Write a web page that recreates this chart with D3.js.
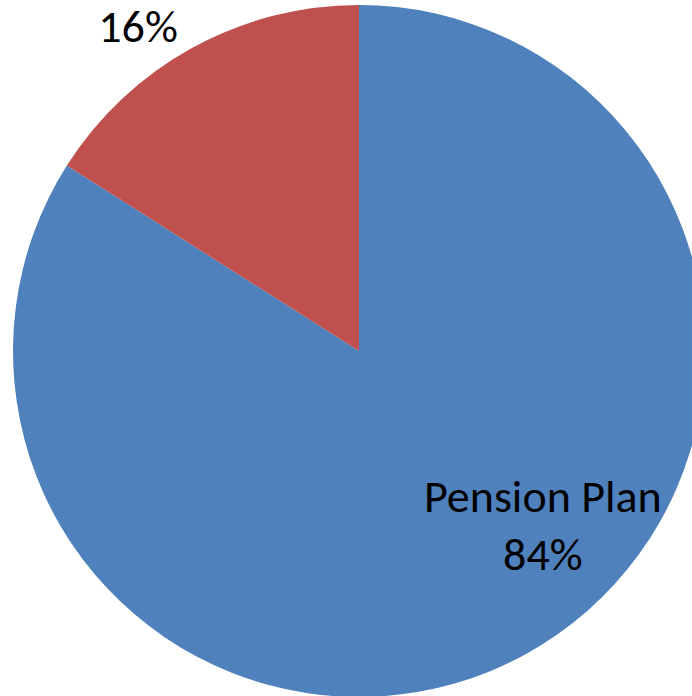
<!DOCTYPE html>
<html>
<head>
  <meta charset="utf-8">
  <title>Pension Plan share</title>
  <style>
    body { margin: 0; background: #fff; }
    text {
      font-family: Carlito, Calibri, Lato, "Open Sans", sans-serif;
      fill: #000;
    }
  </style>
</head>
<body>
  <svg width="692" height="696"></svg>
  <script src="https://d3js.org/d3.v7.min.js"></script>
  <script>
    // chart data
    var categories = ["Pension Plan", "Other"];
    var values = [84, 16];
    var showName = [true, false];
    var colors = ["#4F81BD", "#C0504D"];

    var svg = d3.select("svg");
    var cx = 359, cy = 351, radius = 346;

    var g = svg.append("g")
        .attr("transform", "translate(" + cx + "," + cy + ")");

    var data = categories.map(function(c, i) {
      return { name: c, value: values[i], showName: showName[i], color: colors[i] };
    });

    // Excel draws clockwise from 12 o'clock, first slice first
    var pie = d3.pie()
        .sort(null)
        .value(function(d) { return d.value; });

    var arc = d3.arc()
        .innerRadius(0)
        .outerRadius(radius);

    var arcs = pie(data);

    g.selectAll("path.slice")
        .data(arcs)
        .enter()
        .append("path")
        .attr("class", "slice")
        .attr("d", arc)
        .attr("fill", function(d) { return d.data.color; });

    // labels: placed at angle/radius around the centre (manually moved in the original)
    var labelPos = [
      { angle: 132.8, r: 250.6 }, // Pension Plan
      { angle: -34.2, r: 393.1 }  // 16%
    ];
    var total = d3.sum(values);

    var labels = g.selectAll("text.label")
        .data(arcs)
        .enter()
        .append("text")
        .attr("class", "label")
        .attr("text-anchor", "middle")
        .attr("font-size", 46)
        .attr("transform", function(d, i) {
          var a = labelPos[i].angle * Math.PI / 180;
          var x = Math.sin(a) * labelPos[i].r;
          var y = -Math.cos(a) * labelPos[i].r;
          return "translate(" + x + "," + y + ")";
        });

    labels.each(function(d) {
      var t = d3.select(this);
      var pct = Math.round(d.data.value / total * 100) + "%";
      if (d.data.showName) {
        t.append("tspan").attr("x", 0).attr("dy", "-0.2em").text(d.data.name);
        t.append("tspan").attr("x", 0).attr("dy", "1.26em").text(pct);
      } else {
        t.append("tspan").attr("x", 0).attr("dy", "0.35em").text(pct);
      }
    });
  </script>
</body>
</html>
